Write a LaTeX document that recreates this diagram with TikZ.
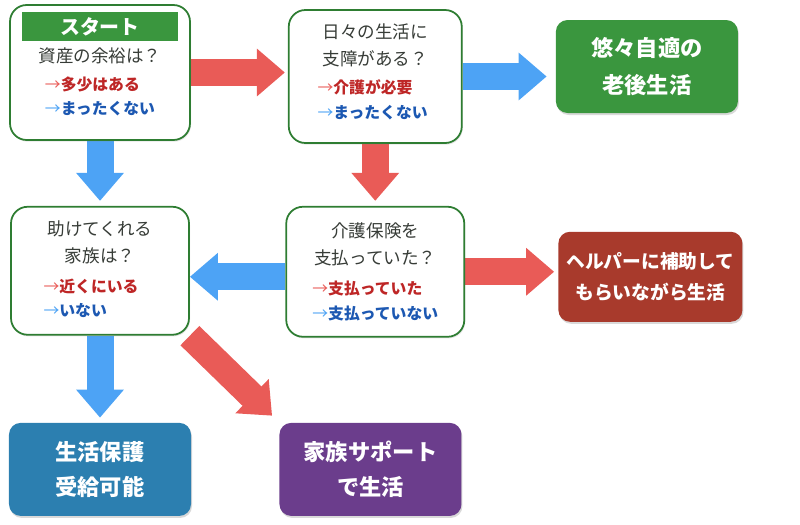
\documentclass[tikz,border=0pt]{standalone}
\usepackage{fontspec}
\setmainfont{Noto Sans CJK JP}
\usetikzlibrary{positioning,arrows.meta,shadows,backgrounds}

\definecolor{boxgreen}{RGB}{46,125,50}
\definecolor{okgreen}{RGB}{58,150,62}
\definecolor{arrred}{RGB}{233,91,87}
\definecolor{arrblue}{RGB}{77,163,245}
\definecolor{ansred}{RGB}{190,38,38}
\definecolor{ansblue}{RGB}{28,88,178}
\definecolor{qgray}{RGB}{55,60,55}
\definecolor{helpred}{RGB}{168,58,44}
\definecolor{aidblue}{RGB}{44,127,176}
\definecolor{familypurple}{RGB}{107,61,140}

\newcommand{\toRed}{{\mdseries\color{arrred}→}}
\newcommand{\toBlue}{{\mdseries\color{arrblue}→}}

\tikzset{
  qbox/.style={draw=boxgreen, line width=1.5pt, fill=white, rounded corners=0.5cm,
    drop shadow={opacity=0.2, shadow xshift=0.03cm, shadow yshift=-0.05cm}},
  endbox/.style={rounded corners=0.35cm, text=white, align=center,
    minimum width=5.46cm, minimum height=2.79cm,
    drop shadow={opacity=0.3, shadow xshift=0.03cm, shadow yshift=-0.06cm}},
  qtext/.style={text=qgray, align=center, font=\fontsize{15}{23}\selectfont},
  anstext/.style={align=left, font=\bfseries\fontsize{13.5}{21}\selectfont},
  fatarrow/.style={line width=0.81cm, -{Triangle[width=1.38cm,length=0.84cm]}},
  redarr/.style={fatarrow, draw=arrred},
  bluearr/.style={fatarrow, draw=arrblue},
}

\begin{document}
\begin{tikzpicture}[x=0.03cm, y=-0.03cm]
  \useasboundingbox (0,0) rectangle (800,524);

  % question boxes
  \node[qbox, minimum width=5.4cm, minimum height=4.05cm] (b1) at (100,72.5) {};
  \node[qbox, minimum width=5.19cm, minimum height=3.99cm] (b2) [right=2.91cm of b1, yshift=-0.12cm] {};
  \node[qbox, minimum width=5.34cm, minimum height=3.84cm] (b4) [below=1.95cm of b1] {};
  \node[qbox, minimum width=5.34cm, minimum height=3.9cm]  (b5) [below=1.86cm of b2] {};

  % results
  \node[endbox, fill=okgreen, font=\bfseries\fontsize{19}{31}\selectfont]
    (b3) [right=2.79cm of b2, yshift=0.3cm] {悠々自適の\\老後生活};
  \node[endbox, fill=helpred, minimum width=5.52cm, minimum height=2.7cm,
    font=\bfseries\fontsize{16}{27}\selectfont]
    (b6) [right=2.79cm of b5, yshift=-0.15cm] {ヘルパーに補助して\\もらいながら生活};
  \node[endbox, fill=aidblue, font=\bfseries\fontsize{19}{30}\selectfont]
    (b7) [below=2.61cm of b4] {生活保護\\受給可能};
  \node[endbox, fill=familypurple, font=\bfseries\fontsize{19}{30}\selectfont]
    (b8) [right=2.64cm of b7] {家族サポート\\で生活};

  % box texts
  \node[fill=okgreen, text=white, minimum width=4.68cm, minimum height=0.87cm,
    font=\bfseries\fontsize{17}{20}\selectfont] (start) at ([yshift=-0.675cm]b1.north) {スタート};
  \node[qtext] (q1) at ([yshift=-1.56cm]b1.north) {資産の余裕は？};
  \node[anstext] (a1) at ([yshift=-2.775cm]b1.north)
    {\toRed\textcolor{ansred}{多少はある}\\\toBlue\textcolor{ansblue}{まったくない}};

  \node[qtext] (q2) at ([yshift=-1.095cm]b2.north) {日々の生活に\\支障がある？};
  \node[anstext] (a2) at ([yshift=-2.715cm,xshift=-0.08cm]b2.north)
    {\toRed\textcolor{ansred}{介護が必要}\\\toBlue\textcolor{ansblue}{まったくない}};

  \node[qtext] (q4) at ([yshift=-1.095cm]b4.north) {助けてくれる\\家族は？};
  \node[anstext] (a4) at ([yshift=-2.775cm,xshift=-0.27cm]b4.north)
    {\toRed\textcolor{ansred}{近くにいる}\\\toBlue\textcolor{ansblue}{いない}};

  \node[qtext] (q5) at ([yshift=-1.155cm]b5.north) {介護保険を\\支払っていた？};
  \node[anstext] (a5) at ([yshift=-2.85cm]b5.north)
    {\toRed\textcolor{ansred}{支払っていた}\\\toBlue\textcolor{ansblue}{支払っていない}};

  % arrows
  \begin{scope}[on background layer]
    \draw[redarr, shorten >=0.09cm] (b1.east) -- (b1.east -| b2.west);
    \draw[bluearr, shorten >=0.27cm] (b2.east) -- (b2.east -| b3.west);
    \draw[bluearr, shorten >=0.15cm] (b1.south) -- (b1.south |- b4.north);
    \draw[redarr, shorten >=0.15cm] (b2.south) -- (b2.south |- b5.north);
    \draw[bluearr] ([yshift=-0.15cm]b5.west) -- ([yshift=-0.15cm]b5.west -| b4.east);
    \draw[redarr, shorten >=0.12cm] (b5.east) -- (b5.east -| b6.west);
    \draw[bluearr, shorten >=0.15cm] (b4.south) -- (b4.south |- b7.north);
    \draw[redarr, shorten >=0.3cm] (b4.south east) -- (b8.north west);
  \end{scope}
\end{tikzpicture}
\end{document}
